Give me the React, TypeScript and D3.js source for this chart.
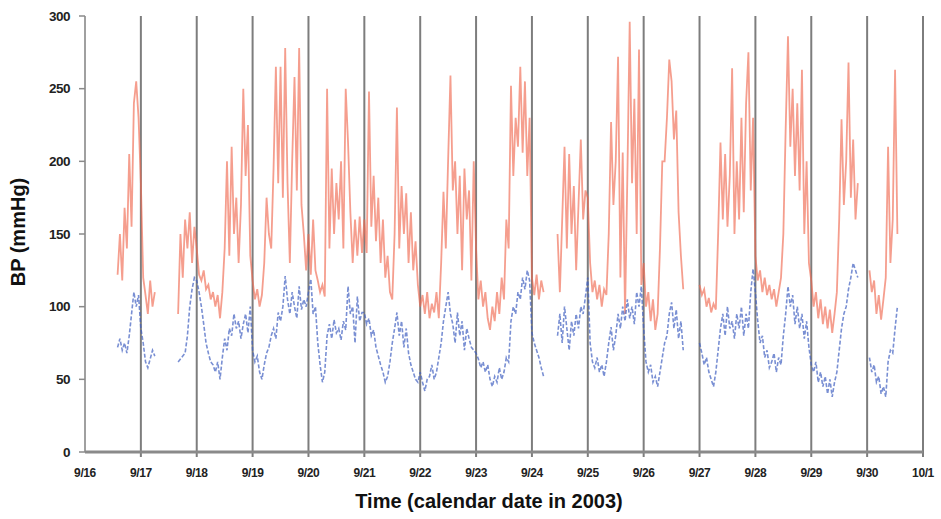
import * as d3 from 'd3'
import React from 'react'

// hourly readings; each segment starts at the given hour counted from 9/16 00:00
const segmentStarts = [14, 40, 203, 264, 337]

const systolic1 = [122, 150, 118, 168, 140, 205, 155, 240, 255, 230, 185, 120, 108, 95, 118, 100, 110]
const diastolic1 = [72, 78, 70, 75, 68, 80, 95, 110, 100, 108, 85, 75, 62, 58, 64, 70, 66]

const systolic2 = [
  // 9/17 pm
  95, 150, 120, 160, 140, 165, 130, 155,
  // 9/18
  140, 122, 118, 125, 112, 115, 105, 110, 100, 108, 92, 110, 140, 200, 135, 210, 150, 175, 130, 170, 250, 190, 225, 135,
  // 9/19
  118, 105, 112, 100, 108, 130, 175, 150, 140, 195, 265, 185, 265, 175, 278, 185, 130, 200, 258, 180, 278, 170, 150, 125,
  // 9/20
  150, 122, 160, 125, 118, 110, 115, 107, 250, 140, 195, 150, 185, 160, 200, 140, 250, 213, 165, 130, 160, 135, 162, 137,
  // 9/21
  160, 137, 248, 155, 190, 145, 175, 130, 160, 120, 135, 110, 105, 150, 237, 140, 183, 150, 178, 130, 165, 125, 145, 115,
  // 9/22
  100, 108, 95, 110, 92, 102, 96, 110, 92, 130, 179, 140, 201, 259, 180, 200, 150, 190, 125, 195, 160, 180, 118, 200,
  // 9/23
  140, 105, 118, 100, 110, 92, 84, 100, 90, 110, 95, 120, 105, 160, 140, 252, 190, 230, 210, 265, 206, 255, 190, 230,
  // 9/24 am
  120, 108, 122, 105, 118, 110
]
const diastolic2 = [
  62, 64, 66, 68, 80, 100, 112, 120,
  118, 110, 100, 88, 75, 68, 62, 60, 55, 62, 50, 65, 78, 70, 85, 80, 95, 85, 90, 78, 88, 95, 82, 100,
  70, 62, 66, 55, 50, 60, 68, 72, 80, 85, 78, 96, 90, 100, 121, 105, 95, 110, 100, 92, 114, 98, 105, 100,
  110, 119, 95, 100, 75, 60, 48, 55, 80, 88, 78, 91, 82, 85, 77, 90, 84, 114, 95, 100, 75, 107, 90, 96,
  96, 88, 92, 80, 84, 72, 66, 60, 55, 48, 52, 62, 75, 85, 96, 80, 90, 72, 85, 68, 60, 55, 50, 48,
  55, 48, 42, 50, 52, 60, 50, 55, 65, 75, 90, 100, 110, 95, 88, 75, 96, 80, 90, 70, 85, 78, 72, 70,
  68, 64, 58, 62, 55, 60, 50, 45, 52, 48, 58, 50, 55, 65, 62, 90, 100, 95, 110, 105, 120, 112, 125, 118,
  82, 75, 70, 65, 58, 52
]

const systolic3 = [
  150, 110, 160, 210, 140, 205, 150, 183, 125, 170,
  215, 160, 180, 175, 130, 110, 118, 105, 115, 100,
  112, 108, 150, 227, 170, 200, 272, 120, 206, 95,
  190, 296, 185, 243, 150, 277, 115, 130, 100, 110,
  90, 105, 84, 95, 140, 200, 200, 230, 270, 255,
  215, 235, 165, 135, 112
]
const diastolic3 = [
  80, 95, 75, 100, 85, 70, 90, 80, 95,
  85, 100, 95, 107, 120,
  75, 62, 58, 65, 55, 60, 52, 62,
  75, 86, 70, 80,
  95, 85, 100, 90, 105, 92, 100, 88, 110, 100,
  114, 85,
  62, 55, 60, 48, 52, 45, 55,
  65, 75, 80,
  95, 103, 85, 98, 78, 90, 70
]

const systolic4 = [
  115, 108, 112, 100, 106, 96, 102, 98,
  150, 213, 160, 205, 155, 190, 264, 150, 200, 160,
  230, 165, 240, 275, 180, 230,
  135, 118, 125, 110, 120, 108, 115, 105, 112, 100, 110, 120,
  150, 222, 286, 210, 250, 190, 240, 180, 263, 150, 200, 130,
  118, 100, 110, 92, 105, 88, 100, 85, 98, 82, 95, 110,
  160, 229, 170, 200, 268, 175, 215, 160, 185
]
const diastolic4 = [
  75, 68, 60, 65, 55, 50, 45, 55,
  70, 85, 95, 80, 100, 85, 90, 78, 95,
  85, 100, 80, 95, 85, 110, 126,
  110, 90, 75, 80, 65, 70, 58, 62, 68, 55, 65, 60,
  80, 95, 114,
  100, 108, 88, 100, 85, 95, 78, 90, 72,
  60, 55, 62, 48, 55, 45, 52, 40, 50, 38, 48, 55,
  70, 85, 95, 100, 112, 120, 130, 125, 120
]

const systolic5 = [125, 110, 118, 95, 108, 91, 105, 120, 210, 130, 160, 263, 150]
const diastolic5 = [65, 55, 60, 48, 52, 40, 45, 38, 62, 70, 68, 85, 100]

const systolicSegments = [systolic1, systolic2, systolic3, systolic4, systolic5]
const diastolicSegments = [diastolic1, diastolic2, diastolic3, diastolic4, diastolic5]

const dateLabels = ['9/16', '9/17', '9/18', '9/19', '9/20', '9/21', '9/22', '9/23', '9/24', '9/25', '9/26', '9/27', '9/28', '9/29', '9/30', '10/1']
const bpTicks = [0, 50, 100, 150, 200, 250, 300]

const font = '"Liberation Sans", Arial, sans-serif'

export default function App() {
  const x = d3.scaleLinear().domain([0, 360]).range([85, 923])
  const y = d3.scaleLinear().domain([0, 300]).range([452, 16])

  const line = d3
    .line<[number, number]>()
    .x(d => x(d[0]))
    .y(d => y(d[1]))

  const toPoints = (vals: number[], s: number) =>
    vals.map((v, i) => [segmentStarts[s] + i, v] as [number, number])

  return (
    <svg width={941} height={519} style={{ position: 'absolute', left: 0, top: 0, background: '#fff' }}>
      {/* day lines */}
      {dateLabels.map((d, i) =>
        i === 0 ? null : (
          <line key={d} x1={x(i * 24)} x2={x(i * 24)} y1={y(300)} y2={457} stroke="#7d7d7d" strokeWidth={2} />
        )
      )}
      <line x1={x(0)} x2={x(0)} y1={y(300)} y2={y(0)} stroke="#a0a0a0" strokeWidth={2} />

      {systolicSegments.map((seg, s) => (
        <path
          key={'s' + s}
          d={line(toPoints(seg, s)) || ''}
          fill="none"
          stroke="#f06a52"
          strokeOpacity={0.65}
          strokeWidth={1.8}
        />
      ))}
      {diastolicSegments.map((seg, s) => (
        <path
          key={'d' + s}
          d={line(toPoints(seg, s)) || ''}
          fill="none"
          stroke="#4060c0"
          strokeOpacity={0.7}
          strokeWidth={1.6}
          strokeDasharray="4 2"
        />
      ))}

      <line x1={x(0)} x2={x(360)} y1={y(0)} y2={y(0)} stroke="#8a8a8a" strokeWidth={3} />

      {bpTicks.map(t => (
        <g key={t}>
          <line x1={79} x2={x(0)} y1={y(t)} y2={y(t)} stroke="#8a8a8a" strokeWidth={1.5} />
          <text x={70} y={y(t)} dy="0.35em" textAnchor="end" fontFamily={font} fontWeight="bold" fontSize={13.5} fill="#222" letterSpacing={-0.5}>
            {t}
          </text>
        </g>
      ))}

      {dateLabels.map((d, i) => (
        <text key={d} x={x(i * 24)} y={477} textAnchor="middle" fontFamily={font} fontWeight="bold" fontSize={12} fill="#222" letterSpacing={-0.4}>
          {d}
        </text>
      ))}

      <text
        transform={`translate(25,${232}) rotate(-90)`}
        textAnchor="middle"
        fontFamily={font}
        fontWeight="bold"
        fontSize={20}
        fill="#111"
      >
        BP (mmHg)
      </text>
      <text x={489} y={508} textAnchor="middle" fontFamily={font} fontWeight="bold" fontSize={20} fill="#111">
        Time (calendar date in 2003)
      </text>
    </svg>
  )
}
